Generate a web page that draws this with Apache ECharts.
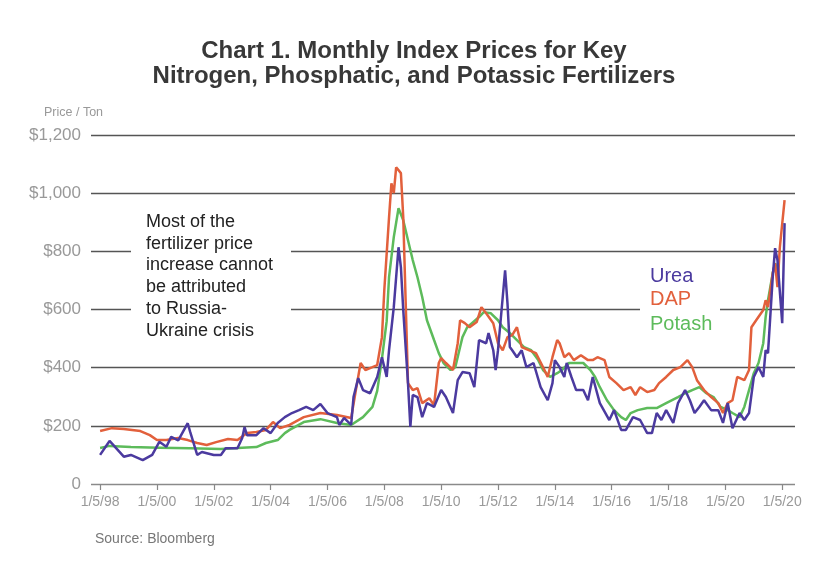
<!DOCTYPE html>
<html>
<head>
<meta charset="utf-8">
<script src="https://cdn.jsdelivr.net/npm/echarts@6/dist/echarts.min.js"></script>
<style>
  html, body { margin: 0; padding: 0; background: #fff; }
  #chart { width: 828px; height: 580px; }
</style>
</head>
<body>
<div id="chart"></div>
<script>
// tick positions (Jan of every other year) and the labels printed under them
const tickYears = [1998, 2000, 2002, 2004, 2006, 2008, 2010, 2012, 2014, 2016, 2018, 2020, 2022];
const tickLabels = ['1/5/98', '1/5/00', '1/5/02', '1/5/04', '1/5/06', '1/5/08', '1/5/10',
  '1/5/12', '1/5/14', '1/5/16', '1/5/18', '1/5/20', '1/5/20'];

// Urea, $/ton
const ureaDates = ['1998-01', '1998-05', '1998-11', '1999-02', '1999-07', '1999-11', '2000-02', '2000-05',
  '2000-07', '2000-10', '2001-02', '2001-03', '2001-06', '2001-08', '2002-01', '2002-04', '2002-06',
  '2002-11', '2003-01', '2003-02', '2003-03', '2003-07', '2003-10', '2004-01', '2004-04', '2004-07',
  '2004-10', '2005-01', '2005-04', '2005-07', '2005-10', '2006-01', '2006-05', '2006-06', '2006-08',
  '2006-11', '2006-12', '2007-02', '2007-04', '2007-07', '2007-10', '2007-12', '2008-02', '2008-03',
  '2008-05', '2008-07', '2008-08', '2008-09', '2008-11', '2008-12', '2009-01', '2009-03', '2009-05',
  '2009-07', '2009-10', '2010-01', '2010-03', '2010-06', '2010-08', '2010-10', '2011-01', '2011-03',
  '2011-05', '2011-08', '2011-09', '2011-11', '2011-12', '2012-01', '2012-03', '2012-04', '2012-05',
  '2012-06', '2012-07', '2012-09', '2012-11', '2013-01', '2013-04', '2013-07', '2013-10', '2013-12',
  '2014-01', '2014-03', '2014-05', '2014-06', '2014-08', '2014-10', '2015-01', '2015-03', '2015-05',
  '2015-08', '2015-12', '2016-02', '2016-05', '2016-07', '2016-10', '2017-01', '2017-04', '2017-06',
  '2017-08', '2017-10', '2017-12', '2018-03', '2018-05', '2018-08', '2018-10', '2018-12', '2019-02',
  '2019-04', '2019-07', '2019-10', '2019-12', '2020-02', '2020-04', '2020-07', '2020-09', '2020-11',
  '2021-01', '2021-03', '2021-05', '2021-06', '2021-07', '2021-09', '2021-10', '2021-11', '2022-01',
  '2022-02'];
const ureaPrices = [100, 148, 94, 100, 82, 100, 145, 128, 162, 150, 209, 180, 100, 110, 100, 100, 123,
  123, 158, 196, 168, 168, 192, 175, 210, 230, 244, 254, 265, 254, 275, 244, 230, 203, 227, 203, 299,
  364, 323, 312, 368, 436, 368, 460, 608, 814, 746, 598, 347, 196, 306, 299, 230, 278, 265, 323, 299,
  244, 357, 385, 381, 333, 495, 484, 519, 460, 392, 460, 643, 735, 622, 471, 460, 436, 460, 402, 416,
  333, 288, 347, 426, 402, 368, 416, 368, 323, 323, 288, 368, 278, 220, 254, 186, 186, 230, 220, 175,
  175, 244, 220, 254, 210, 278, 323, 288, 244, 265, 288, 254, 254, 210, 278, 192, 244, 220, 244, 368,
  402, 368, 460, 450, 711, 811, 770, 553, 897];

// DAP, $/ton
const dapDates = ['1998-01', '1998-06', '1998-11', '1999-06', '1999-10', '2000-01', '2000-05', '2000-10',
  '2001-02', '2001-06', '2001-10', '2002-02', '2002-07', '2002-11', '2003-03', '2003-07', '2003-11',
  '2004-02', '2004-05', '2004-09', '2005-03', '2005-10', '2006-05', '2006-11', '2007-01', '2007-03',
  '2007-05', '2007-08', '2007-10', '2007-12', '2008-01', '2008-03', '2008-04', '2008-05', '2008-06',
  '2008-08', '2008-09', '2008-10', '2008-11', '2009-01', '2009-03', '2009-05', '2009-08', '2009-10',
  '2009-12', '2010-01', '2010-03', '2010-06', '2010-08', '2010-09', '2010-11', '2011-01', '2011-04',
  '2011-06', '2011-08', '2011-11', '2012-01', '2012-03', '2012-05', '2012-07', '2012-09', '2012-11',
  '2013-02', '2013-05', '2013-08', '2013-10', '2013-12', '2014-02', '2014-03', '2014-05', '2014-07',
  '2014-09', '2014-12', '2015-03', '2015-05', '2015-07', '2015-10', '2015-12', '2016-03', '2016-06',
  '2016-09', '2016-11', '2017-01', '2017-04', '2017-07', '2017-09', '2017-12', '2018-03', '2018-06',
  '2018-09', '2018-11', '2019-01', '2019-04', '2019-07', '2019-10', '2019-12', '2020-02', '2020-04',
  '2020-06', '2020-09', '2020-11', '2020-12', '2021-02', '2021-05', '2021-06', '2021-07', '2021-09',
  '2021-10', '2021-11', '2021-12', '2022-02'];
const dapPrices = [182, 192, 189, 182, 168, 151, 151, 158, 151, 141, 134, 144, 155, 151, 175, 179, 186,
  213, 192, 203, 230, 244, 237, 227, 323, 416, 392, 402, 409, 505, 667, 917, 1034, 1000, 1089, 1069,
  917, 632, 347, 323, 330, 278, 295, 271, 416, 433, 416, 392, 484, 563, 553, 539, 557, 608, 587, 553,
  484, 460, 505, 512, 539, 471, 460, 450, 402, 368, 436, 495, 484, 436, 450, 426, 443, 426, 426, 436,
  426, 368, 347, 323, 333, 306, 333, 316, 323, 347, 368, 392, 402, 426, 402, 357, 323, 299, 278, 244,
  278, 288, 368, 357, 392, 539, 563, 598, 632, 608, 725, 759, 677, 814, 976];

// Potash, $/ton
const potashDates = ['1998-01', '1998-05', '1999-02', '2000-02', '2001-03', '2002-04', '2003-01', '2003-07',
  '2003-11', '2004-04', '2004-07', '2004-09', '2005-03', '2005-10', '2006-05', '2006-11', '2007-04',
  '2007-08', '2007-10', '2007-12', '2008-02', '2008-03', '2008-05', '2008-07', '2008-09', '2008-11',
  '2009-01', '2009-03', '2009-05', '2009-07', '2009-10', '2009-12', '2010-02', '2010-05', '2010-07',
  '2010-09', '2010-10', '2010-12', '2011-02', '2011-05', '2011-07', '2011-10', '2012-01', '2012-03',
  '2012-06', '2012-09', '2012-12', '2013-03', '2013-06', '2013-08', '2013-11', '2014-02', '2014-04',
  '2014-07', '2014-10', '2015-01', '2015-04', '2015-06', '2015-08', '2015-11', '2016-02', '2016-05',
  '2016-07', '2016-09', '2016-12', '2017-04', '2017-08', '2017-12', '2018-05', '2018-08', '2018-11',
  '2019-02', '2019-05', '2019-08', '2019-11', '2020-02', '2020-04', '2020-07', '2020-09', '2020-11',
  '2021-01', '2021-03', '2021-05', '2021-06', '2021-07', '2021-09', '2021-10', '2021-11'];
const potashPrices = [124, 131, 127, 125, 123, 120, 125, 127, 141, 151, 175, 186, 213, 223, 210, 203,
  230, 265, 320, 430, 560, 711, 849, 948, 907, 838, 770, 711, 643, 563, 495, 450, 416, 392, 402, 471,
  505, 539, 553, 574, 591, 587, 563, 539, 519, 495, 471, 460, 426, 392, 368, 381, 392, 416, 416, 416,
  392, 368, 333, 288, 254, 230, 220, 244, 254, 261, 261, 278, 299, 312, 323, 333, 312, 299, 265, 254,
  244, 230, 265, 323, 381, 416, 484, 574, 632, 725, 759, 735];

const yTicks = [0, 200, 400, 600, 800, 1000, 1200];

const toYear = (d) => {
  const [y, m] = d.split('-').map(Number);
  return y + (m - 1) / 12;
};
const pairs = (dates, prices) => dates.map((d, i) => [toYear(d), prices[i]]);

const ureaColor = '#4b3a9f';
const dapColor = '#e2603c';
const potashColor = '#5dbb5b';

const chart = echarts.init(document.getElementById('chart'), null, { renderer: 'canvas' });

const lineSeries = (name, color, data) => ({
  name,
  type: 'line',
  data,
  showSymbol: false,
  symbol: 'none',
  lineStyle: { color, width: 2.5 },
  itemStyle: { color },
  z: 3,
});

const font = 'Helvetica, "Liberation Sans", Arial, sans-serif';

chart.setOption({
  backgroundColor: '#fff',
  animation: false,
  grid: { left: 91, right: 33, top: 135, bottom: 96 },
  xAxis: {
    type: 'value',
    min: 1997.68,
    max: 2022.45,
    axisLine: { show: false },
    axisTick: {
      show: true,
      customValues: tickYears,
      length: 6,
      inside: false,
      lineStyle: { color: '#888', width: 1.2 },
    },
    axisLabel: {
      customValues: tickYears,
      color: '#999',
      fontSize: 14,
      fontFamily: font,
      margin: 11,
      formatter: (v) => tickLabels[tickYears.indexOf(Math.round(v))] || '',
    },
    splitLine: { show: false },
  },
  yAxis: {
    type: 'value',
    min: yTicks[0],
    max: yTicks[yTicks.length - 1],
    interval: 200,
    axisLine: { show: false },
    axisTick: { show: false },
    axisLabel: {
      color: '#999',
      fontSize: 17,
      fontFamily: font,
      margin: 10,
      formatter: (v) => (v === 0 ? '0' : '$' + v.toLocaleString('en-US')),
    },
    splitLine: {
      show: true,
      lineStyle: { color: ['#8a8a8a', '#555', '#555', '#555', '#555', '#555', '#555'], width: 1.3 },
    },
  },
  series: [
    lineSeries('Potash', potashColor, pairs(potashDates, potashPrices)),
    lineSeries('DAP', dapColor, pairs(dapDates, dapPrices)),
    lineSeries('Urea', ureaColor, pairs(ureaDates, ureaPrices)),
  ],
  graphic: [
    {
      type: 'text',
      left: 'center',
      top: 39,
      style: {
        text: 'Chart 1. Monthly Index Prices for Key\nNitrogen, Phosphatic, and Potassic Fertilizers',
        fill: '#383838',
        font: 'bold 24px ' + font,
        textAlign: 'center',
        lineHeight: 25,
      },
    },
    {
      type: 'text',
      left: 44,
      top: 106,
      style: { text: 'Price / Ton', fill: '#999', font: '12.5px ' + font },
    },
    {
      type: 'text',
      left: 95,
      top: 532,
      style: { text: 'Source: Bloomberg', fill: '#777', font: '14px ' + font },
    },
    // annotation box hides the gridlines behind it
    {
      type: 'rect',
      shape: { x: 131, y: 204, width: 160, height: 140 },
      style: { fill: '#fff' },
      z: 10,
    },
    {
      type: 'text',
      left: 146,
      top: 211,
      z: 11,
      style: {
        text: 'Most of the\nfertilizer price\nincrease cannot\nbe attributed\nto Russia-\nUkraine crisis',
        fill: '#222',
        font: '18px ' + font,
        lineHeight: 21.8,
      },
    },
    // series labels
    {
      type: 'rect',
      shape: { x: 640, y: 262, width: 80, height: 76 },
      style: { fill: '#fff' },
      z: 10,
    },
    {
      type: 'text', left: 650, top: 266, z: 11,
      style: { text: 'Urea', fill: ureaColor, font: '20px ' + font },
    },
    {
      type: 'text', left: 650, top: 289, z: 11,
      style: { text: 'DAP', fill: dapColor, font: '20px ' + font },
    },
    {
      type: 'text', left: 650, top: 314, z: 11,
      style: { text: 'Potash', fill: potashColor, font: '20px ' + font },
    },
  ],
});
</script>
</body>
</html>
